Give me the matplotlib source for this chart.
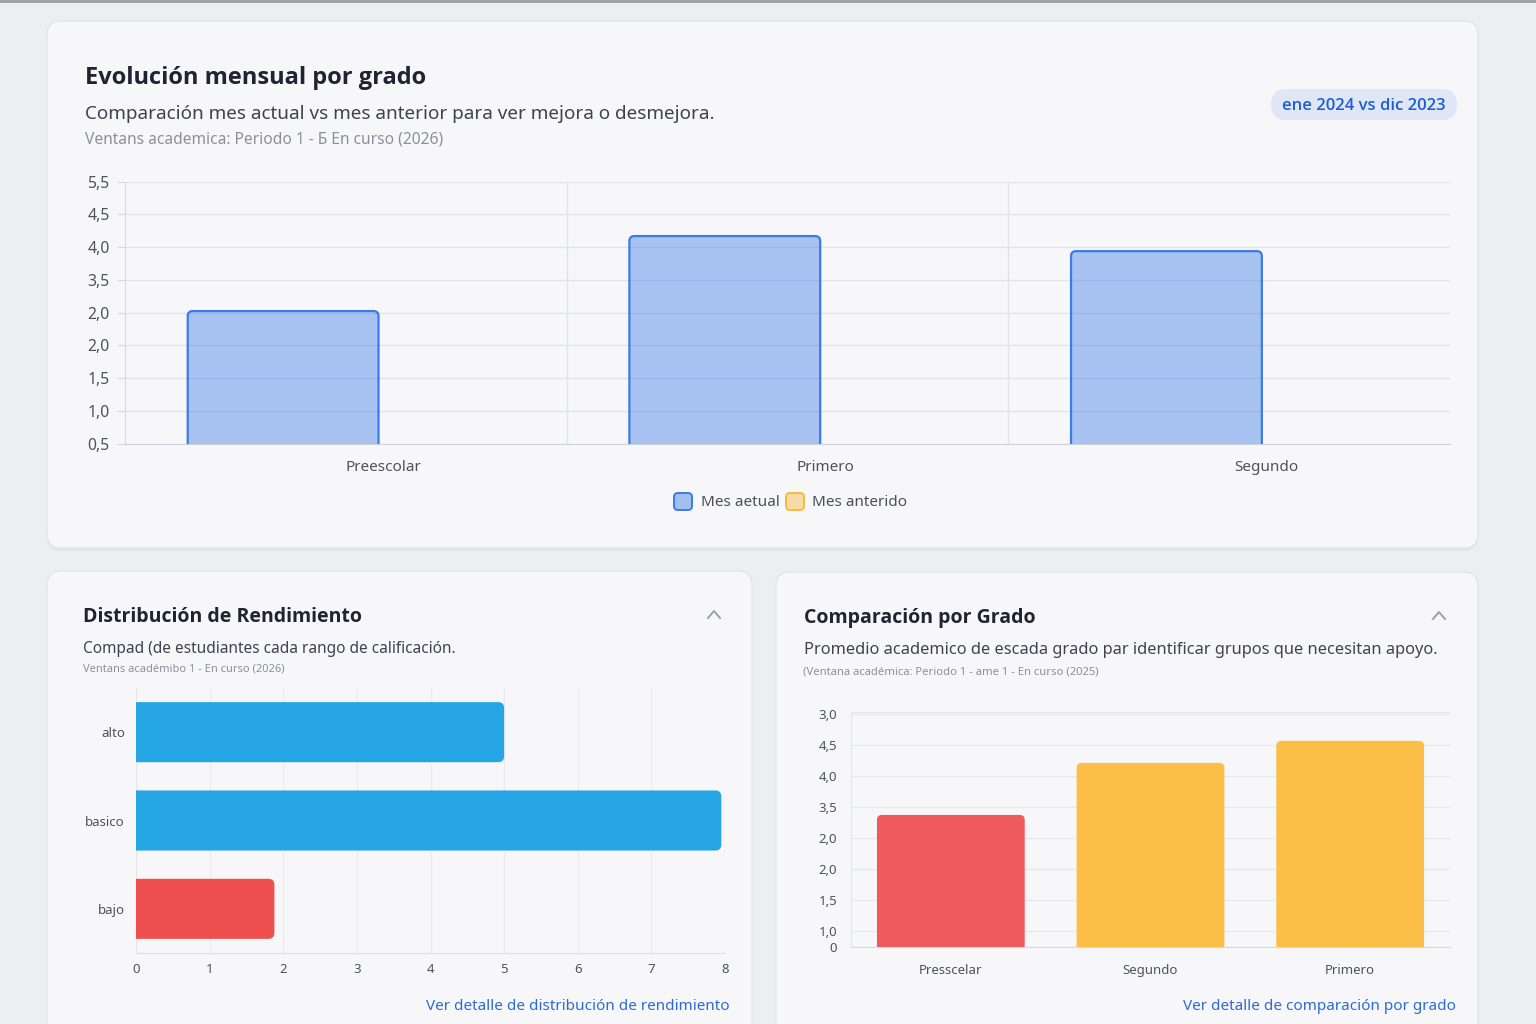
import matplotlib
matplotlib.use('Agg')
import matplotlib.pyplot as plt
from matplotlib.patches import FancyBboxPatch
from matplotlib.lines import Line2D
from matplotlib import font_manager

plt.rcParams['font.family'] = ['Noto Sans', 'DejaVu Sans']

W, H = 1536, 1024

# ---------------- data ----------------
grados_top = ['Preescolar', 'Primero', 'Segundo']
mes_actual = [4.05, 6.34, 5.88]
mes_anterior = [0.0, 0.0, 0.0]
series_names = ['Mes aetual', 'Mes anterido']
series_colors = ['#3b7be8', '#f8b940']
top_ytick_labels = ['0,5', '1,0', '1,5', '2,0', '2,0', '3,5', '4,0', '4,5', '5,5']

rango_labels = ['alto', 'basico', 'bajo']
rango_counts = [5.0, 7.95, 1.88]
rango_colors = ['#25a5e4', '#25a5e4', '#ee5050']
rango_xticks = [0, 1, 2, 3, 4, 5, 6, 7, 8]

grados_cmp = ['Presscelar', 'Segundo', 'Primero']
promedio_cmp = [4.26, 5.94, 6.65]
cmp_colors = ['#ef5a5f', '#fbbf47', '#fbbf47']
cmp_ytick_pos = [0, 0.5, 1.5, 2.5, 3.5, 4.5, 5.5, 6.5, 7.5]
cmp_ytick_labels = ['0', '1,0', '1,5', '2,0', '2,0', '3,5', '4,0', '4,5', '3,0']

# pick a family that really has a bold face
BOLD_FAMS = ['Open Sans', 'Lato', 'Inter', 'Roboto', 'Liberation Sans', 'DejaVu Sans']
bold_fam = 'DejaVu Sans'
for fam in BOLD_FAMS:
    ok = any(f.name == fam and (f.weight in ('bold', 700, 600, 'semibold', 'demibold') or
                                (isinstance(f.weight, int) and f.weight >= 600))
             for f in font_manager.fontManager.ttflist)
    if ok:
        bold_fam = fam
        break

# ---------------- helpers ----------------
fig = plt.figure(figsize=(W / 100, H / 100), dpi=100)
fig.patch.set_facecolor('#eceef2')


def fx(x):
    return x / W


def fy(y):
    return 1 - y / H


def card(l, t, r, b, rad=14):
    sh = FancyBboxPatch((fx(l), fy(b + 3)), (r - l) / W, (b - t) / H,
                        boxstyle=f'round,pad=0,rounding_size={rad / W}',
                        mutation_aspect=W / H, transform=fig.transFigure,
                        facecolor='#dcdfe6', edgecolor='none', alpha=0.6, zorder=0)
    fig.add_artist(sh)
    p = FancyBboxPatch((fx(l), fy(b)), (r - l) / W, (b - t) / H,
                       boxstyle=f'round,pad=0,rounding_size={rad / W}',
                       mutation_aspect=W / H, transform=fig.transFigure,
                       facecolor='#f7f7f9', edgecolor='#e3e5ea', lw=1, zorder=0.5)
    fig.add_artist(p)


def pill(l, t, r, b, fc, ec='none', alpha=1.0, lw=1.0):
    rad = min(r - l, b - t) / 2
    p = FancyBboxPatch((fx(l), fy(b)), (r - l) / W, (b - t) / H,
                       boxstyle=f'round,pad=0,rounding_size={rad / W}',
                       mutation_aspect=W / H, transform=fig.transFigure,
                       facecolor=fc, edgecolor=ec, alpha=alpha, lw=lw, zorder=2)
    fig.add_artist(p)
    return p


def add_axes(l, t, r, b):
    ax = fig.add_axes([fx(l), fy(b), (r - l) / W, (b - t) / H])
    ax.set_facecolor('none')
    ax.set_zorder(3)
    return ax


def px_per_unit(ax):
    pos = ax.get_position()
    x0, x1 = ax.get_xlim()
    y0, y1 = ax.get_ylim()
    return pos.width * W / abs(x1 - x0), pos.height * H / abs(y1 - y0)


def round_bars(ax, bars, r_px, fcs, ecs=None, alpha=1.0, lw=0, horizontal=False):
    xpx, ypx = px_per_unit(ax)
    for i, b in enumerate(bars):
        x, y, w, h = b.get_x(), b.get_y(), b.get_width(), b.get_height()
        b.set_visible(False)
        if (h if not horizontal else w) <= 0:
            continue
        rx = r_px / xpx
        if horizontal:
            ext = 2 * r_px / xpx
            xy, ww, hh = (x - ext, y), w + ext, h
        else:
            ext = 2 * r_px / ypx
            xy, ww, hh = (x, y - ext), w, h + ext
        fc = fcs[i]
        p = FancyBboxPatch(xy, ww, hh, boxstyle=f'round,pad=0,rounding_size={rx}',
                           mutation_aspect=xpx / ypx, facecolor=fc,
                           edgecolor='none', lw=0, alpha=alpha, zorder=3)
        ax.add_patch(p)
        if ecs is not None:
            e = FancyBboxPatch(xy, ww, hh, boxstyle=f'round,pad=0,rounding_size={rx}',
                               mutation_aspect=xpx / ypx, facecolor='none',
                               edgecolor=ecs[i], lw=lw, zorder=4)
            ax.add_patch(e)


def chevron(cx, cy):
    fig.add_artist(Line2D([fx(cx - 6), fx(cx), fx(cx + 6)], [fy(cy + 4), fy(cy - 3), fy(cy + 4)],
                          transform=fig.transFigure, color='#9ba1ab', lw=1.4, zorder=5))


def title(x, y, s, size):
    fig.text(fx(x), fy(y), s, fontsize=size, fontweight='bold', family=[bold_fam, 'DejaVu Sans'],
             color='#1f2430', va='center', ha='left')


def txt(x, y, s, size, color, ha='left'):
    fig.text(fx(x), fy(y), s, fontsize=size, color=color, va='center', ha=ha)


# top border line
fig.add_artist(Line2D([0, 1], [fy(0.5), fy(0.5)], transform=fig.transFigure, color='#9a9da3', lw=2))

# ---------------- cards ----------------
card(47, 21, 1478, 548)
card(47, 571, 752, 1040)
card(776, 572, 1478, 1040)

# ---------------- top panel ----------------
title(85, 78.5, 'Evolución mensual por grado', 17)
txt(85, 114, 'Comparación mes actual vs mes anterior para ver mejora o desmejora.', 13.6, '#3d4350')
txt(85, 140, 'Ventans academica: Periodo 1 - Б En curso (2026)', 11.2, '#8a909c')
pill(1271, 89, 1457, 120, '#dfe7f6')
fig.text(fx(1364), fy(106), 'ene 2024 vs dic 2023', fontsize=12, fontweight='semibold',
         family=[bold_fam, 'DejaVu Sans'],
         color='#1c5ed6', va='center', ha='center', zorder=6)

ax1 = add_axes(125, 181.7, 1450, 443.7)
ax1.set_xlim(-0.5, 2.5)
ax1.set_ylim(0, 8)
xs = list(range(len(grados_top)))
b1 = ax1.bar([x - 0.142 for x in xs], mes_actual, width=0.432, color=series_colors[0])
b2 = ax1.bar([x + 0.3 for x in xs], mes_anterior, width=0.432, color=series_colors[1])
round_bars(ax1, b1, 5, [series_colors[0]] * 3, alpha=0.42)
round_bars(ax1, b1, 5, ['none'] * 3, ecs=[series_colors[0]] * 3, lw=1.6)
round_bars(ax1, b2, 5, [series_colors[1]] * 3, alpha=0.42)
ax1.set_yticks(range(len(top_ytick_labels)))
ax1.set_yticklabels(top_ytick_labels, fontsize=11.3, color='#4d525d')
ax1.set_xticks([x + 0.085 for x in xs])
ax1.set_xticklabels(grados_top, fontsize=11, color='#4d525d')
ax1.tick_params(axis='x', length=0, pad=12)
ax1.tick_params(axis='y', length=6, color='#d6d9df', pad=5)
ax1.grid(axis='y', color='#e1e3e8', lw=1)
ax1.set_axisbelow(True)
for xv in [0.5, 1.5]:
    ax1.axvline(xv, color='#e1e3e8', lw=1, zorder=1)
for s in ['top', 'right']:
    ax1.spines[s].set_visible(False)
ax1.spines['left'].set_color('#d6d9df')
ax1.spines['bottom'].set_color('#cfd2d8')

# legend
leg_items = [(674, 701, series_names[0], series_colors[0]), (786, 812, series_names[1], series_colors[1])]
for sx, tx, name, col in leg_items:
    pb = FancyBboxPatch((fx(sx), fy(510)), 18 / W, 17 / H,
                        boxstyle=f'round,pad=0,rounding_size={4 / W}', mutation_aspect=W / H,
                        transform=fig.transFigure, facecolor=col, alpha=0.45, edgecolor='none', zorder=5)
    fig.add_artist(pb)
    pe = FancyBboxPatch((fx(sx), fy(510)), 18 / W, 17 / H,
                        boxstyle=f'round,pad=0,rounding_size={4 / W}', mutation_aspect=W / H,
                        transform=fig.transFigure, facecolor='none', edgecolor=col, lw=1.4, zorder=6)
    fig.add_artist(pe)
    txt(tx, 503, name, 11, '#4a4f5a')

# ---------------- bottom-left panel ----------------
title(83, 617.5, 'Distribución de Rendimiento', 14)
chevron(714, 614)
txt(83, 649, 'Compad (de estudiantes cada rango de calificación.', 11.1, '#3d4350')
txt(83, 669, 'Ventans académibo 1 - En curso (2026)', 8.0, '#8a909c')

ax2 = add_axes(136, 688, 725, 953)
ax2.set_xlim(0, 8)
ax2.set_ylim(2.5, -0.5)
ys = list(range(len(rango_labels)))
b3 = ax2.barh(ys, rango_counts, height=0.68, color=rango_colors)
round_bars(ax2, b3, 6, rango_colors, horizontal=True)
ax2.set_yticks(ys)
ax2.set_yticklabels(rango_labels, fontsize=9.5, color='#4d525d')
ax2.set_xticks(rango_xticks)
ax2.set_xticklabels([str(v) for v in rango_xticks], fontsize=9.5, color='#4d525d')
ax2.tick_params(axis='both', length=0)
ax2.tick_params(axis='x', pad=7)
ax2.tick_params(axis='y', pad=8)
ax2.grid(axis='x', color='#eaecef', lw=1)
ax2.set_axisbelow(True)
for s in ['top', 'right']:
    ax2.spines[s].set_visible(False)
ax2.spines['left'].set_color('#e3e5ea')
ax2.spines['bottom'].set_color('#dcdfe4')
txt(730, 1007, 'Ver detalle de distribución de rendimiento', 11, '#2b6cd4', ha='right')

# ---------------- bottom-right panel ----------------
title(804, 617.5, 'Comparación por Grado', 14)
chevron(1439, 615)
txt(804, 650, 'Promedio academico de escada grado par identificar grupos que necesitan apoyo.', 11.8, '#3d4350')
txt(803, 672, '(Ventana académica: Periodo 1 - ame 1 - En curso (2025)', 8.1, '#8a909c')

ax3 = add_axes(851, 712, 1450, 947)
ax3.set_xlim(-0.5, 2.5)
ax3.set_ylim(0, 7.58)
xs3 = list(range(len(grados_cmp)))
b4 = ax3.bar(xs3, promedio_cmp, width=0.74, color=cmp_colors)
round_bars(ax3, b4, 5, cmp_colors)
ax3.set_yticks(cmp_ytick_pos)
ax3.set_yticklabels(cmp_ytick_labels, fontsize=9.5, color='#4d525d')
ax3.set_xticks(xs3)
ax3.set_xticklabels(grados_cmp, fontsize=9.5, color='#4d525d')
ax3.tick_params(axis='both', length=0)
ax3.tick_params(axis='x', pad=12)
ax3.tick_params(axis='y', pad=10)
ax3.grid(axis='y', color='#e6e8ec', lw=1)
ax3.axhline(7.58, color='#e6e8ec', lw=1)
ax3.set_axisbelow(True)
for s in ['top', 'right']:
    ax3.spines[s].set_visible(False)
ax3.spines['left'].set_color('#e3e5ea')
ax3.spines['bottom'].set_color('#d6d9de')
txt(1456, 1007, 'Ver detalle de comparación por grado', 11, '#2b6cd4', ha='right')

fig.savefig('out.png', dpi=100, facecolor=fig.get_facecolor())
